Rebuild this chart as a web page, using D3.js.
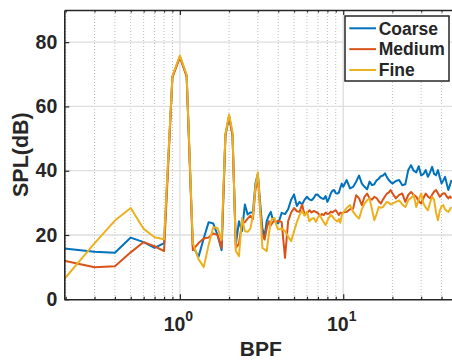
<!DOCTYPE html>
<html>
<head>
<meta charset="utf-8">
<script src="https://cdn.jsdelivr.net/npm/d3@7/dist/d3.min.js"></script>
<style>
  html, body { margin: 0; padding: 0; background: #ffffff; }
  svg { display: block; }
  text { font-family: "Liberation Sans", Arial, Helvetica, sans-serif; font-weight: bold; fill: #262626; }
</style>
</head>
<body>
<svg id="chart" width="452" height="362"></svg>
<script>
// Blade-passing-frequency axis (shared by all three grids)
const bpf = [
  0.196, 0.3, 0.4, 0.5, 0.6, 0.7, 0.8, 0.9, 1.0, 1.1,
  1.2, 1.3, 1.4, 1.5, 1.6, 1.7, 1.8, 1.9, 2.0, 2.1,
  2.2, 2.3, 2.4, 2.5, 2.6, 2.7, 2.8, 2.9, 3.0, 3.1,
  3.2, 3.3, 3.4, 3.5, 3.6, 3.7, 3.8, 3.9, 4.0,
  4.2, 4.4, 4.6, 4.8, 5.0, 5.2, 5.4, 5.6, 5.8, 6.0,
  6.2, 6.4, 6.6, 6.8, 7.0, 7.2, 7.4, 7.6, 7.8, 8.0,
  8.2, 8.4, 8.6, 8.8, 9.0, 9.2, 9.4, 9.6, 9.8, 10,
  10.5, 11, 11.5, 12, 12.5, 13, 13.5, 14, 14.5, 15,
  15.5, 16, 16.5, 17, 17.5, 18, 18.5, 19, 19.5, 20,
  21, 22, 23, 24, 25, 26, 27, 28, 29, 30,
  31, 32, 33, 34, 35, 36, 37, 38, 39, 40,
  41, 42, 43, 44, 45, 46
];

// SPL (dB) for each mesh
const coarse = [
  15.8, 14.8, 14.5, 19.2, 17.8, 16.0, 17.5, 69.3, 75.5, 69.5,
  16.5, 13.2, 19.0, 24.0, 23.6, 20.0, 15.3, 51, 57, 51,
  17, 24.3, 21.2, 29.5, 26.4, 27, 27, 36, 39, 30,
  22, 19.5, 24.3, 26, 27.2, 25, 24.6, 24, 23.6,
  26.9, 26.5, 28, 31, 32.6, 29, 30.3, 29.5, 31, 31.9,
  31.1, 30.8, 31.5, 32.6, 32.5, 31.8, 31.4, 31.2, 32.1, 30.3,
  31.5, 33, 33.8, 34, 33, 32.9, 33.2, 34.7, 36, 35,
  37.1, 34.5, 35, 36.6, 38.5, 36, 35, 34.2, 36.6, 35.5,
  35.8, 37, 37.5, 38.3, 38.5, 39.2, 38, 37.1, 36.5, 36,
  36.8, 37.1, 35.5, 35.8, 40.2, 41.7, 40, 39.5, 41.4, 38.5,
  39, 40.2, 38.1, 39.5, 41.2, 39, 38.6, 40.2, 38, 36,
  37, 38.1, 36, 34, 35.5, 37.1
];
const medium = [
  12, 10.0, 10.3, 14.6, 17.8, 16.5, 15, 69, 75.3, 69.3,
  15.3, 17.5, 18.9, 19.2, 20.5, 20, 16, 51, 57, 51,
  16, 17.3, 23.6, 24, 25.1, 26, 25, 34, 38, 28,
  20, 18.6, 22, 24.3, 23, 24, 24.3, 24, 24.5,
  24, 12.9, 24.3, 27, 28.4, 27.4, 27.2, 29.5, 26.2, 26.8,
  27.7, 27, 27.5, 27.2, 26.8, 26, 26.5, 26.2, 27, 26.5,
  26.7, 27.3, 27, 27.5, 27.7, 27, 26.2, 27, 26.7, 27,
  27.2, 28, 28.2, 32.4, 31.4, 29.3, 31.9, 32.9, 31.4, 31,
  31.9, 31.5, 30.5, 29.8, 31, 32, 32.9, 33.2, 34, 33,
  31.4, 32.5, 32.9, 30.3, 32.5, 33.4, 32.5, 31.9, 30.5, 29.8,
  31.5, 32.9, 32, 31.4, 32.5, 33.5, 34, 33, 31.9, 32.5,
  33, 32.9, 32, 31.4, 32, 31.4
];
const fine = [
  6.3, 17.4, 24.5, 28.4, 21.9, 19.3, 18.7, 69.5, 75.8, 69.8,
  17.5, 12.5, 10, 17, 22.4, 22.2, 18.5, 51.5, 57.5, 52,
  15, 13.4, 25.3, 21.2, 21, 22, 26, 35, 39.5, 28,
  16, 15.5, 15, 20, 24.3, 25, 25.3, 23, 21.7,
  22, 21.2, 19.5, 18.1, 21.2, 24, 26.2, 27.5, 26, 27.2,
  24.3, 25, 25.3, 24.1, 25.5, 26.2, 25, 24, 23.1, 24.5,
  25.5, 26.2, 25.8, 25, 24.6, 24.2, 25, 23.8, 26.2, 27,
  28.4, 29.3, 27.2, 26, 25.1, 28, 29.8, 30.8, 31.4, 28,
  24.6, 26.5, 28.7, 28.5, 28.7, 29.5, 30.3, 30, 29.5, 29.8,
  30.3, 30.8, 29.5, 28.7, 30.8, 31.5, 32.4, 28.7, 31, 32.9,
  29.8, 28.5, 27.7, 30, 31.9, 31, 27, 24.6, 27.5, 29,
  29.3, 28, 27.5, 27.2, 28, 28.7
];

const seriesNames  = ["Coarse", "Medium", "Fine"];
const seriesColors = ["#0072BD", "#D95319", "#EDB120"];

const yTicks      = [0, 20, 40, 60, 80];
const xMajorTicks = [1, 10];
const xMajorExp   = ["0", "1"];
const xMinorTicks = [0.2, 0.3, 0.4, 0.5, 0.6, 0.7, 0.8, 0.9,
                     2, 3, 4, 5, 6, 7, 8, 9, 20, 30, 40, 50];

const xLabel = "BPF";
const yLabel = "SPL(dB)";

// ---- layout ----
const plot = { left: 64.3, top: 10, bottom: 299.3, right: 457.4 };
const ink = "#262626";

const svg = d3.select("#chart");

const x = d3.scaleLog().domain([0.196, 50]).range([plot.left, plot.right]);
const y = d3.scaleLinear().domain([0, 90]).range([plot.bottom, plot.top]);

svg.append("defs").append("clipPath").attr("id", "plotClip")
  .append("rect")
  .attr("x", plot.left).attr("y", plot.top)
  .attr("width", plot.right - plot.left).attr("height", plot.bottom - plot.top);

// ---- grid ----
const grid = svg.append("g").attr("clip-path", "url(#plotClip)");
grid.selectAll("line.minor").data(xMinorTicks).join("line")
  .attr("class", "minor")
  .attr("x1", d => x(d)).attr("x2", d => x(d))
  .attr("y1", plot.top).attr("y2", plot.bottom)
  .attr("stroke", "#bdbdbd").attr("stroke-width", 1)
  .attr("stroke-dasharray", "1,2");
grid.selectAll("line.majorx").data(xMajorTicks).join("line")
  .attr("class", "majorx")
  .attr("x1", d => x(d)).attr("x2", d => x(d))
  .attr("y1", plot.top).attr("y2", plot.bottom)
  .attr("stroke", "#dedede").attr("stroke-width", 1.3);
grid.selectAll("line.majory").data(yTicks.filter(v => v > 0)).join("line")
  .attr("class", "majory")
  .attr("x1", plot.left).attr("x2", plot.right)
  .attr("y1", d => y(d)).attr("y2", d => y(d))
  .attr("stroke", "#dedede").attr("stroke-width", 1.3);

// ---- data lines ----
const seriesValues = [coarse, medium, fine];
const line = d3.line()
  .x(d => x(d[0]))
  .y(d => y(d[1]));

const lines = svg.append("g").attr("clip-path", "url(#plotClip)");
seriesValues.forEach((vals, i) => {
  lines.append("path")
    .datum(bpf.map((b, k) => [b, vals[k]]))
    .attr("d", line)
    .attr("fill", "none")
    .attr("stroke", seriesColors[i])
    .attr("stroke-width", 2)
    .attr("stroke-linejoin", "round");
});

// ---- axes ----
function styleAxis(g) {
  g.selectAll("path.domain").attr("stroke", ink).attr("stroke-width", 1.6);
  g.selectAll(".tick line").attr("stroke", ink).attr("stroke-width", 1.2);
}

// bottom: major + minor ticks pointing inward
svg.append("g").attr("transform", `translate(0,${plot.bottom})`)
  .call(d3.axisBottom(x).tickValues(xMajorTicks).tickSizeInner(-5).tickSizeOuter(0).tickFormat(""))
  .call(styleAxis);
svg.append("g").attr("transform", `translate(0,${plot.bottom})`)
  .call(d3.axisBottom(x).tickValues(xMinorTicks).tickSizeInner(-2.5).tickSizeOuter(0).tickFormat(""))
  .call(g => g.select("path.domain").remove())
  .call(styleAxis);

// top box edge with the same ticks
svg.append("g").attr("transform", `translate(0,${plot.top})`)
  .call(d3.axisTop(x).tickValues(xMajorTicks).tickSizeInner(-5).tickSizeOuter(0).tickFormat(""))
  .call(styleAxis);
svg.append("g").attr("transform", `translate(0,${plot.top})`)
  .call(d3.axisTop(x).tickValues(xMinorTicks).tickSizeInner(-2.5).tickSizeOuter(0).tickFormat(""))
  .call(g => g.select("path.domain").remove())
  .call(styleAxis);

// left axis
const yAxisG = svg.append("g").attr("transform", `translate(${plot.left},0)`)
  .call(d3.axisLeft(y).tickValues(yTicks).tickSizeInner(-5).tickSizeOuter(0).tickPadding(7))
  .call(styleAxis);
yAxisG.selectAll(".tick text")
  .attr("font-size", 19.5)
  .attr("font-family", null)
  .attr("fill", ink);

// power-of-ten labels on the x axis
const xLab = svg.append("g");
xMajorTicks.forEach((v, i) => {
  const t = xLab.append("text")
    .attr("x", x(v) - 1.5)
    .attr("y", 331)
    .attr("text-anchor", "middle")
    .attr("font-size", 19.5);
  t.append("tspan").text("10");
  t.append("tspan").attr("font-size", 14).attr("dy", -10).text(xMajorExp[i]);
});

// axis titles
svg.append("text")
  .attr("x", (plot.left + plot.right) / 2)
  .attr("y", 356)
  .attr("text-anchor", "middle")
  .attr("font-size", 21)
  .text(xLabel);

svg.append("text")
  .attr("transform", `translate(28,${(plot.top + plot.bottom) / 2}) rotate(-90)`)
  .attr("text-anchor", "middle")
  .attr("font-size", 21.5)
  .text(yLabel);

// ---- legend ----
const legend = svg.append("g");
legend.append("rect")
  .attr("x", 345).attr("y", 16)
  .attr("width", 104).attr("height", 65)
  .attr("fill", "#ffffff")
  .attr("stroke", ink).attr("stroke-width", 1.5);

seriesNames.forEach((name, i) => {
  const cy = 28.3 + i * 20.85;
  legend.append("line")
    .attr("x1", 349.3).attr("x2", 376)
    .attr("y1", cy).attr("y2", cy)
    .attr("stroke", seriesColors[i]).attr("stroke-width", 2);
  legend.append("text")
    .attr("x", 378.7).attr("y", cy + 6.3)
    .attr("font-size", 17.5)
    .attr("fill", "#000000")
    .text(name);
});
</script>
</body>
</html>
